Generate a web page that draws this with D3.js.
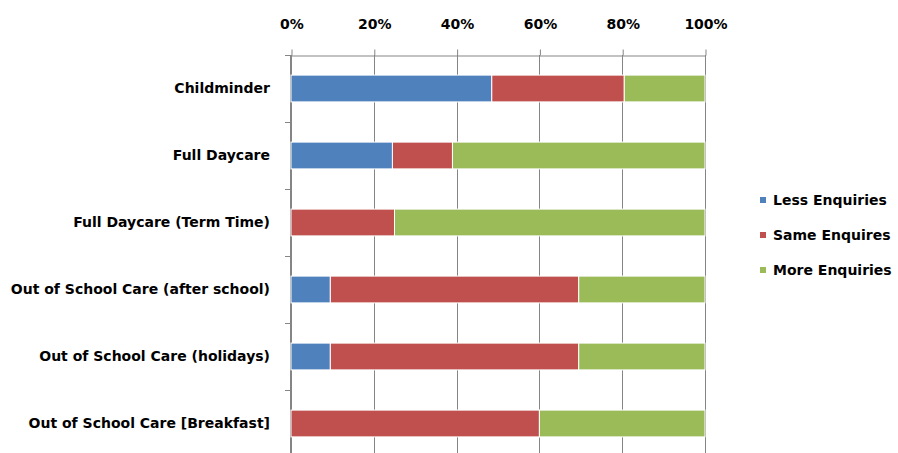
<!DOCTYPE html>
<html>
<head>
<meta charset="utf-8">
<script src="https://cdn.jsdelivr.net/npm/d3@7/dist/d3.min.js"></script>
<style>
  body { margin: 0; background: #fff; }
  text { font-family: "DejaVu Sans", sans-serif; font-weight: bold; fill: #000; }
</style>
</head>
<body>
<div id="chart"></div>
<script>
// categories top to bottom
const categories = [
  "Childminder",
  "Full Daycare",
  "Full Daycare (Term Time)",
  "Out of School Care (after school)",
  "Out of School Care (holidays)",
  "Out of School Care [Breakfast]"
];

const seriesNames = ["Less Enquiries", "Same Enquires", "More Enquiries"];
const colors = ["#4f81bd", "#c0504d", "#9bbb59"];

// percent shares per category
const lessEnquiries = [48.5, 24.5, 0, 9.5, 9.5, 0];
const sameEnquiries = [32, 14.5, 25, 60, 60, 60];
const moreEnquiries = [19.5, 61, 75, 30.5, 30.5, 40];

const xTicks = [0, 20, 40, 60, 80, 100];

const width = 898, height = 453;
const margin = {top: 55, right: 193, bottom: -4, left: 291};

const rows = categories.map((c, i) => ({
  cat: c,
  "Less Enquiries": lessEnquiries[i],
  "Same Enquires": sameEnquiries[i],
  "More Enquiries": moreEnquiries[i]
}));

const stack = d3.stack().keys(seriesNames)(rows);

const svg = d3.select("#chart").append("svg")
  .attr("width", width)
  .attr("height", height);

const x = d3.scaleLinear()
  .domain([0, 100])
  .range([margin.left, width - margin.right]);

const y = d3.scaleBand()
  .domain(categories)
  .range([margin.top, height - margin.bottom])
  .paddingInner(0.6)
  .paddingOuter(0.3);

// gridlines
svg.append("g")
  .selectAll("line")
  .data(xTicks)
  .join("line")
    .attr("x1", d => Math.round(x(d)) + 0.5)
    .attr("x2", d => Math.round(x(d)) + 0.5)
    .attr("y1", margin.top)
    .attr("y2", height)
    .attr("stroke", "#858585")
    .attr("stroke-width", 1);

// top axis
const xAxis = svg.append("g")
  .attr("transform", `translate(0.5,${margin.top + 0.5})`)
  .call(d3.axisTop(x).tickValues(xTicks).tickFormat(d => d + "%").tickSize(6).tickSizeOuter(0));
xAxis.select(".domain").attr("stroke", "#858585");
xAxis.selectAll(".tick line").attr("stroke", "#858585");
xAxis.selectAll(".tick text")
  .attr("y", -27)
  .style("font-size", "14px");

// left axis with ticks between categories
const step = y.step();
const boundaries = d3.range(categories.length + 1).map(i => y.range()[0] + i * step);
svg.append("line")
  .attr("x1", margin.left - 0.5).attr("x2", margin.left - 0.5)
  .attr("y1", margin.top).attr("y2", height)
  .attr("stroke", "#858585");
svg.append("g")
  .selectAll("line")
  .data(boundaries)
  .join("line")
    .attr("x1", margin.left - 6).attr("x2", margin.left)
    .attr("y1", d => Math.round(d) + 0.5).attr("y2", d => Math.round(d) + 0.5)
    .attr("stroke", "#858585");

svg.append("g")
  .selectAll("text")
  .data(categories)
  .join("text")
    .attr("x", 270)
    .attr("y", d => y(d) + y.bandwidth() / 2)
    .attr("dy", "0.35em")
    .attr("text-anchor", "end")
    .style("font-size", "14px")
    .text(d => d);

// bars
svg.append("g")
  .selectAll("g")
  .data(stack)
  .join("g")
    .attr("fill", (d, i) => colors[i])
  .selectAll("rect")
  .data(d => d.filter(s => s[1] - s[0] > 0))
  .join("rect")
    .attr("x", d => x(d[0]))
    .attr("y", d => y(d.data.cat))
    .attr("width", d => x(d[1]) - x(d[0]))
    .attr("height", y.bandwidth())
    .attr("stroke", "#fff")
    .attr("stroke-width", 1);

// legend
const legend = svg.append("g")
  .selectAll("g")
  .data(seriesNames)
  .join("g")
    .attr("transform", (d, i) => `translate(760,${200 + i * 35})`);
legend.append("rect")
  .attr("x", 0).attr("y", -3)
  .attr("width", 6).attr("height", 6)
  .attr("fill", (d, i) => colors[i]);
legend.append("text")
  .attr("x", 13)
  .attr("dy", "0.35em")
  .style("font-size", "14px")
  .text(d => d);
</script>
</body>
</html>
